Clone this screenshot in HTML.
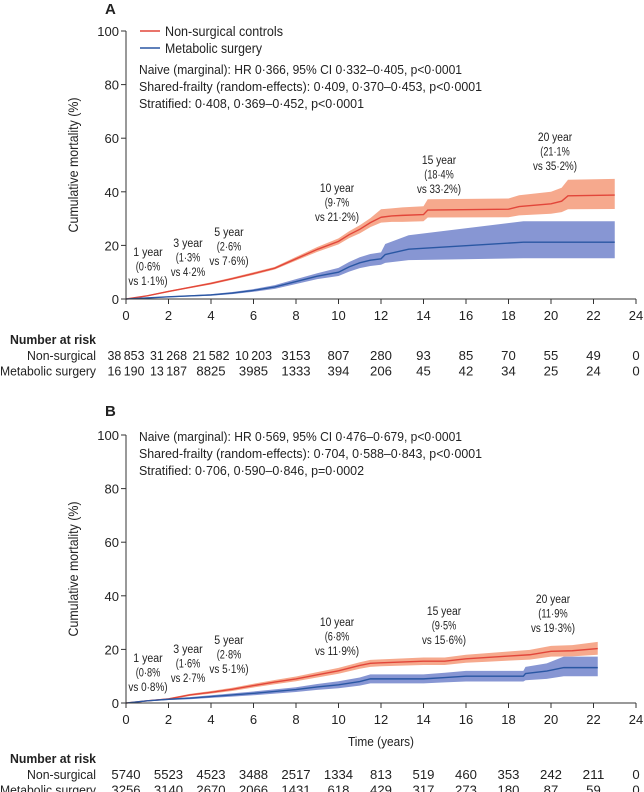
<!DOCTYPE html>
<html><head><meta charset="utf-8">
<style>
html,body{margin:0;padding:0;background:#fff;}
svg{display:block;font-family:"Liberation Sans Narrow","Liberation Sans",sans-serif;}
text{fill:#222;}
</style></head>
<body>
<svg id="chart" width="644" height="792" viewBox="0 0 644 792" xmlns="http://www.w3.org/2000/svg"></svg>
<script>
// ---- Panel A data ----
const aRedT  = [0,1,2,3,4,5,6,7,8,9,10,10.5,11,11.5,12,12.5,13,14,14.2,18,18.5,20,20.5,20.8,23];
const aRedE  = [0,1.2,2.8,4.3,5.8,7.6,9.5,11.5,15,18.5,21.5,24,26,28.5,30.5,31,31.2,31.5,33.2,33.5,34.5,35.5,36.5,38.5,38.8];
const aRedL  = [0,1.0,2.5,4.0,5.4,7.2,9.0,11.0,14.3,17.6,20.4,22.7,24.5,26.8,28.5,28.8,28.8,29,30.4,30.5,31.2,31.8,32.4,33.5,33.6];
const aRedH  = [0,1.4,3.1,4.6,6.2,8.0,10.0,12.0,15.7,19.4,22.6,25.3,27.5,30.2,33.5,33.8,34.2,34.6,37.2,37.5,38.7,40,41.5,44.5,44.8];
const aBlueT = [0,2,4,5,6,7,8,9,10,10.5,11,11.5,12,12.2,13.3,18.7,23];
const aBlueE = [0,0.8,1.5,2.2,3.2,4.5,6.5,8.5,10,12,13.5,14.5,15,16.6,18.6,21.2,21.2];
const aBlueL = [0,0.6,1.2,1.8,2.7,3.8,5.6,7.4,8.6,10.2,11.5,12.3,12.8,13.5,14.5,15.2,15.2];
const aBlueH = [0,1.0,1.8,2.6,3.7,5.2,7.4,9.6,11.6,13.8,15.6,16.8,17.4,20.5,23.8,29,29];
const aRiskNon  = ["38\u2009853","31\u2009268","21\u2009582","10\u2009203","3153","807","280","93","85","70","55","49","0"];
const aRiskMet  = ["16\u2009190","13\u2009187","8825","3985","1333","394","206","45","42","34","25","24","0"];
// ---- Panel B data ----
const bRedT  = [0,1,2,3,4,5,6,7,8,9,10,11,11.5,12,14,15,16,17,18,19,20,21,22.2];
const bRedE  = [0,0.8,1.5,3,4,5.1,6.5,7.8,9,10.5,12,14,14.8,15,15.6,15.6,16.5,17,17.5,18,19.3,19.5,20.3];
const bRedL  = [0,0.6,1.2,2.6,3.5,4.5,5.8,7.0,8.1,9.5,10.9,12.8,13.5,13.7,14.2,14.2,15,15.4,15.8,16.2,17.3,17.4,18];
const bRedH  = [0,1.0,1.8,3.4,4.5,5.7,7.2,8.6,9.9,11.5,13.1,15.2,16.1,16.3,17,17,18,18.6,19.2,19.8,21.3,21.6,22.8];
const bBlueT = [0,1,2,3,4,5,6,7,8,9,10,11,11.5,12,14,15,16,18.7,18.8,19.8,20.6,22.2];
const bBlueE = [0,0.8,1.4,1.8,2.4,3,3.6,4.3,5,6,6.8,8,9,9,9,9.5,10,10,11,11.9,13.2,13.2];
const bBlueL = [0,0.6,1.1,1.4,1.9,2.4,2.9,3.5,4.1,4.9,5.5,6.5,7.3,7.3,7.3,7.7,8,8,8.5,9,10,10];
const bBlueH = [0,1.0,1.7,2.2,2.9,3.6,4.3,5.1,5.9,7.1,8.1,9.5,10.7,10.7,10.7,11.3,12,12,13.5,14.8,17.3,17.3];
const bRiskNon = ["5740","5523","4523","3488","2517","1334","813","519","460","353","242","211","0"];
const bRiskMet = ["3256","3140","2670","2066","1431","618","429","317","273","180","87","59","0"];
const xTicks = [0,2,4,6,8,10,12,14,16,18,20,22,24];
const yTicks = [0,20,40,60,80,100];

const NS="http://www.w3.org/2000/svg";
const svg=document.getElementById('chart');
function mk(tag,attrs,parent){const e=document.createElementNS(NS,tag);for(const k in attrs)e.setAttribute(k,attrs[k]);(parent||svg).appendChild(e);return e;}
function txt(s,x,y,attrs,parent,tl){const a=Object.assign({x:x,y:y},attrs||{});if(tl){a.textLength=tl;a.lengthAdjust='spacingAndGlyphs';}const e=mk('text',a,parent);e.textContent=s;return e;}
const X0=126,X1=636;
function xs(t){return X0+(X1-X0)*t/24;}

function panel(cfg){
  const g=mk('g',{});
  
  
  const Y0=cfg.y0,Y1=cfg.y0-268;
  const ys=v=>Y0-(Y0-Y1)*v/100;
  const lab=txt(cfg.letter,cfg.letterX,cfg.letterY,{'font-size':'15','font-weight':'bold'},g);
  
  
  function band(T,L,H,color,nm){
    let d='M'+xs(T[0])+','+ys(L[0]);
    for(let i=1;i<T.length;i++)d+='L'+xs(T[i])+','+ys(L[i]);
    for(let i=T.length-1;i>=0;i--)d+='L'+xs(T[i])+','+ys(H[i]);
    const p=mk('path',{d:d+'Z',fill:color,stroke:'none'},g);
    
    
  }
  function line(T,E,color,nm){
    const pts=T.map((t,i)=>xs(t)+','+ys(E[i])).join(' ');
    const p=mk('polyline',{points:pts,fill:'none',stroke:color,'stroke-width':'1.4'},g);
    
    
  }
  band(cfg.rT,cfg.rL,cfg.rH,'#f6a98d','non-surgical-ci-band');
  band(cfg.bT,cfg.bL,cfg.bH,'#8796d3','metabolic-surgery-ci-band');
  line(cfg.rT,cfg.rE,'#e2463a','non-surgical-curve');
  line(cfg.bT,cfg.bE,'#2a57a3','metabolic-surgery-curve');
  const ya=mk('line',{x1:X0,y1:Y1,x2:X0,y2:Y0,stroke:'#333','stroke-width':'1'},g);
  
  
  const xa=mk('line',{x1:X0,y1:Y0,x2:X1,y2:Y0,stroke:'#333','stroke-width':'1'},g);
  
  
  yTicks.forEach(v=>{
    mk('line',{x1:X0-5,y1:ys(v),x2:X0,y2:ys(v),stroke:'#333'},g);
    const t=txt(String(v),X0-7,ys(v)+5,{'font-size':'13','text-anchor':'end'},g);
    
    
  });
  xTicks.forEach(v=>{
    mk('line',{x1:xs(v),y1:Y0,x2:xs(v),y2:Y0+5,stroke:'#333'},g);
    const t=txt(String(v),xs(v),Y0+21,{'font-size':'13','text-anchor':'middle'},g);
    
    
  });
  const yt=txt('Cumulative mortality (%)',0,0,{'font-size':'14','text-anchor':'middle',transform:'translate(78,'+(Y0-134)+') rotate(-90)'},g,135);
  
  
  cfg.hr.forEach((s,i)=>{
    const t=txt(s,139,cfg.hrY+i*17,{'font-size':'13'},g,cfg.hrW[i]);
    
    
  });
  cfg.ann.forEach(a=>{
    a.lines.forEach((s,i)=>{
      const t=txt(s,a.x,a.y+i*14.5,{'font-size':'11.5','text-anchor':'middle'},g,s.length*4.9);
      
      
    });
  });
  const h=txt('Number at risk',96,cfg.riskY,{'font-size':'13','font-weight':'bold','text-anchor':'end'},g,86);
  
  
  [['Non-surgical',cfg.rn,69],['Metabolic surgery',cfg.rm,96]].forEach((r,j)=>{
    const yy=cfg.riskY+16+j*15.5;
    const l=txt(r[0],96,yy,{'font-size':'13','text-anchor':'end'},g,r[2]);
    
    
    r[1].forEach((v,i)=>{
      const t=txt(v,xs(xTicks[i]),yy,{'font-size':'13','text-anchor':'middle'},g,v.length>4?37:v.length*7.3);
      
      
    });
  });
  return {g,ys};
}

panel({name:'panel-a',letter:'A',letterX:105,letterY:14,y0:299,
  rT:aRedT,rE:aRedE,rL:aRedL,rH:aRedH,bT:aBlueT,bE:aBlueE,bL:aBlueL,bH:aBlueH,
  hr:['Naive (marginal): HR 0·366, 95% CI 0·332–0·405, p<0·0001','Shared-frailty (random-effects): 0·409, 0·370–0·453, p<0·0001','Stratified: 0·408, 0·369–0·452, p<0·0001'],hrY:74,hrW:[323,343,225],
  ann:[{x:148,y:256,lines:['1 year','(0·6%','vs 1·1%)']},{x:188,y:247,lines:['3 year','(1·3%','vs 4·2%']},{x:229,y:236,lines:['5 year','(2·6%','vs 7·6%)']},
       {x:337,y:192,lines:['10 year','(9·7%','vs 21·2%)']},{x:439,y:164,lines:['15 year','(18·4%','vs 33·2%)']},{x:555,y:141,lines:['20 year','(21·1%','vs 35·2%)']}],
  riskY:344,rn:aRiskNon,rm:aRiskMet});
[['#e2463a','Non-surgical controls',31,118],['#2a57a3','Metabolic surgery',48,97]].forEach(l=>{
  const g=mk('g',{});
  
  
  mk('line',{x1:140,y1:l[2],x2:160,y2:l[2],stroke:l[0],'stroke-width':'1.5'},g);
  txt(l[1],165,l[2]+5,{'font-size':'14'},g,l[3]);
});

panel({name:'panel-b',letter:'B',letterX:105,letterY:416,y0:703,
  rT:bRedT,rE:bRedE,rL:bRedL,rH:bRedH,bT:bBlueT,bE:bBlueE,bL:bBlueL,bH:bBlueH,
  hr:['Naive (marginal): HR 0·569, 95% CI 0·476–0·679, p<0·0001','Shared-frailty (random-effects): 0·704, 0·588–0·843, p<0·0001','Stratified: 0·706, 0·590–0·846, p=0·0002'],hrY:441,hrW:[323,343,225],
  ann:[{x:148,y:662,lines:['1 year','(0·8%','vs 0·8%)']},{x:188,y:653,lines:['3 year','(1·6%','vs 2·7%']},{x:229,y:644,lines:['5 year','(2·8%','vs 5·1%)']},
       {x:337,y:626,lines:['10 year','(6·8%','vs 11·9%)']},{x:444,y:615,lines:['15 year','(9·5%','vs 15·6%)']},{x:553,y:603,lines:['20 year','(11·9%','vs 19·3%)']}],
  riskY:763,rn:bRiskNon,rm:bRiskMet});
const xt=txt('Time (years)',xs(12),746,{'font-size':'13','text-anchor':'middle'},null,66);


</script>
</body></html>
